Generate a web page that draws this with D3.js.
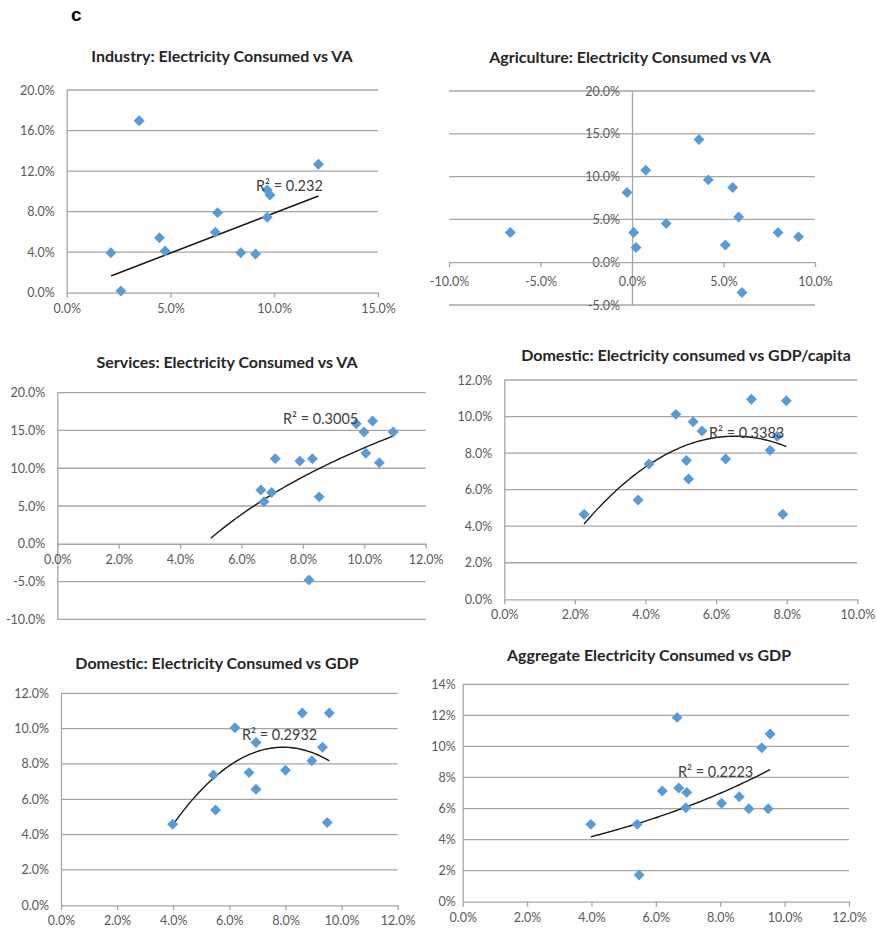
<!DOCTYPE html>
<html>
<head>
<meta charset="utf-8">
<script src="https://cdn.jsdelivr.net/npm/d3@7"></script>
<style>
  body { margin: 0; background: #fff; }
  svg text { font-family: Lato, "Open Sans", "Liberation Sans", sans-serif; }
</style>
</head>
<body>
<svg id="chart" width="877" height="935"></svg>
<script>
// Growth rates in percent: x = value added / GDP growth, y = electricity consumption growth
const industryX = [2.13, 2.61, 3.49, 4.47, 4.74, 7.16, 7.27, 8.39, 9.10, 9.66, 9.66, 9.79, 12.13];
const industryY = [3.95, 0.17, 16.97, 5.43, 4.11, 5.96, 7.90, 3.95, 3.82, 7.44, 10.13, 9.64, 12.67];

const agricultureX = [-6.65, -0.27, 0.09, 0.22, 0.75, 1.87, 3.66, 4.17, 5.10, 5.50, 5.83, 6.01, 7.98, 9.10];
const agricultureY = [3.47, 8.14, 3.47, 1.72, 10.75, 4.52, 14.33, 9.62, 2.02, 8.72, 5.29, -3.54, 3.47, 2.96];

const servicesX = [6.63, 6.73, 6.98, 7.10, 7.90, 8.31, 8.53, 8.20, 9.74, 9.99, 10.05, 10.27, 10.49, 10.94];
const servicesY = [7.13, 5.55, 6.78, 11.27, 10.96, 11.27, 6.21, -4.80, 15.89, 14.80, 11.98, 16.25, 10.74, 14.80];

const domCapitaX = [2.26, 3.79, 4.10, 4.86, 5.16, 5.22, 5.35, 5.60, 6.27, 7.00, 7.53, 7.73, 7.89, 7.99];
const domCapitaY = [4.65, 5.43, 7.40, 10.12, 7.60, 6.58, 9.72, 9.21, 7.68, 10.95, 8.15, 8.92, 4.65, 10.87];

const domGdpX = [3.98, 5.43, 5.51, 6.20, 6.70, 6.95, 6.95, 8.00, 8.60, 8.94, 9.32, 9.49, 9.56];
const domGdpY = [4.59, 7.38, 5.40, 10.05, 7.51, 9.21, 6.57, 7.65, 10.88, 8.18, 8.95, 4.68, 10.88];

const aggregateX = [3.98, 5.42, 5.48, 6.20, 6.66, 6.71, 6.96, 6.93, 8.04, 8.59, 8.89, 9.29, 9.49, 9.55];
const aggregateY = [4.98, 4.98, 1.72, 7.13, 11.87, 7.32, 7.04, 6.05, 6.34, 6.76, 5.99, 9.92, 5.99, 10.80];

// Axis tick values
const industryXTicks = [0, 5, 10, 15];
const industryYTicks = [0, 4, 8, 12, 16, 20];
const agricultureXTicks = [-10, -5, 0, 5, 10];
const agricultureYTicks = [-5, 0, 5, 10, 15, 20];
const servicesXTicks = [0, 2, 4, 6, 8, 10, 12];
const servicesYTicks = [-10, -5, 0, 5, 10, 15, 20];
const domCapitaXTicks = [0, 2, 4, 6, 8, 10];
const domCapitaYTicks = [0, 2, 4, 6, 8, 10, 12];
const domGdpXTicks = [0, 2, 4, 6, 8, 10, 12];
const domGdpYTicks = [0, 2, 4, 6, 8, 10, 12];
const aggregateXTicks = [0, 2, 4, 6, 8, 10, 12];
const aggregateYTicks = [0, 2, 4, 6, 8, 10, 12, 14];

// Trend lines: coefficients and the x span each one covers
const industryTrend = [0.789, -0.03];            // linear: a*x + b
const industrySpan = [2.13, 12.13];
const servicesTrend = [17.28, -27.08];           // logarithmic: a*ln(x) + b
const servicesSpan = [5.0, 10.94];
const domCapitaTrend = [-2.322, 3.4476, -0.2642]; // polynomial: c0 + c1*x + c2*x^2
const domCapitaSpan = [2.26, 7.99];
const domGdpTrend = [-8.852, 4.4966, -0.284];     // polynomial: c0 + c1*x + c2*x^2
const domGdpSpan = [3.98, 9.56];
const aggregateTrend = [2.514, 0.1277];           // exponential: a*e^(k*x)
const aggregateSpan = [3.98, 9.55];

// Trend line labels
const industryR2 = "R² = 0.232";
const servicesR2 = "R² = 0.3005";
const domCapitaR2 = "R² = 0.3383";
const domGdpR2 = "R² = 0.2932";
const aggregateR2 = "R² = 0.2223";

const linear = ([a, b]) => x => a * x + b;
const logarithmic = ([a, b]) => x => a * Math.log(x) + b;
const poly2 = ([c0, c1, c2]) => x => c0 + c1 * x + c2 * x * x;
const exponential = ([a, k]) => x => a * Math.exp(k * x);

const svg = d3.select("#chart");
const gridColor = "#a6a6a6";
const textColor = "#595959";
const pointColor = "#5b9bd5";

svg.append("text").attr("x", 71).attr("y", 21)
  .style("font-family", "'Liberation Sans', Arial, sans-serif")
  .attr("font-size", 19).attr("font-weight", "bold").attr("fill", "#000").text("c");

const fmt1 = d => d.toFixed(1) + "%";
const fmt0 = d => d.toFixed(0) + "%";

function panel(cfg) {
  const x = d3.scaleLinear().domain(cfg.xDomain).range(cfg.xRange);
  const y = d3.scaleLinear().domain(cfg.yDomain).range(cfg.yRange);
  const g = svg.append("g");

  g.append("text")
    .attr("x", cfg.titleX).attr("y", cfg.titleY)
    .attr("text-anchor", "middle").attr("font-size", 16).attr("font-weight", "bold")
    .attr("fill", "#262626").text(cfg.title);

  // horizontal gridlines
  g.append("g").selectAll("line").data(cfg.yTicks.filter(v => v !== cfg.xAxisAt)).join("line")
    .attr("x1", cfg.xRange[0]).attr("x2", cfg.xRange[1])
    .attr("y1", d => y(d)).attr("y2", d => y(d))
    .attr("stroke", gridColor).attr("stroke-width", 1.3);

  // vertical axis
  const yAxis = d3.axisLeft(y).tickValues(cfg.yTicks).tickFormat(cfg.yFmt)
    .tickSize(0).tickPadding(cfg.yPad);
  const ya = g.append("g").attr("transform", `translate(${x(cfg.yAxisAt)},0)`).call(yAxis);
  ya.select(".domain").attr("stroke", gridColor).attr("stroke-width", 1.3);
  ya.selectAll("text").attr("font-size", 12.5).attr("fill", textColor);

  // horizontal axis
  const xAxis = d3.axisBottom(x).tickValues(cfg.xTicks).tickFormat(fmt1)
    .tickSize(5).tickSizeOuter(0).tickPadding(cfg.xPad);
  const xa = g.append("g").attr("transform", `translate(0,${y(cfg.xAxisAt)})`).call(xAxis);
  xa.select(".domain").attr("stroke", gridColor).attr("stroke-width", 1.3);
  xa.selectAll(".tick line").attr("stroke", gridColor).attr("stroke-width", 1.3);
  xa.selectAll("text").attr("font-size", 12.5).attr("fill", textColor);

  // trend line
  if (cfg.trend) {
    const [x0, x1] = cfg.span;
    const pts = d3.range(0, 81).map(i => x0 + (x1 - x0) * i / 80);
    g.append("path")
      .attr("d", d3.line().x(d => x(d)).y(d => y(cfg.trend(d)))(pts))
      .attr("fill", "none").attr("stroke", "#1a1a1a").attr("stroke-width", 1.4);
  }

  // points
  const sym = d3.symbol().type(d3.symbolSquare).size(60)();
  g.append("g").selectAll("path").data(cfg.xs.map((v, i) => [v, cfg.ys[i]])).join("path")
    .attr("d", sym)
    .attr("transform", d => `translate(${x(d[0])},${y(d[1])}) rotate(45)`)
    .attr("fill", pointColor);

  if (cfg.r2) {
    g.append("text").attr("x", cfg.r2X).attr("y", cfg.r2Y)
      .attr("font-size", 14.5).attr("fill", "#404040").text(cfg.r2);
  }
}

panel({
  title: "Industry: Electricity Consumed vs VA", titleX: 222, titleY: 62,
  xs: industryX, ys: industryY, xDomain: [0, 15], xRange: [66.7, 378],
  yDomain: [0, 20], yRange: [292.7, 90], xTicks: industryXTicks, yTicks: industryYTicks,
  yFmt: fmt1, yAxisAt: 0, xAxisAt: 0, yPad: 12, xPad: 6,
  trend: linear(industryTrend), span: industrySpan, r2: industryR2, r2X: 256, r2Y: 191
});

panel({
  title: "Agriculture: Electricity Consumed vs VA", titleX: 630, titleY: 63,
  xs: agricultureX, ys: agricultureY, xDomain: [-10, 10], xRange: [449, 815],
  yDomain: [-5, 20], yRange: [305, 91], xTicks: agricultureXTicks, yTicks: agricultureYTicks,
  yFmt: fmt1, yAxisAt: 0, xAxisAt: 0, yPad: 12, xPad: 10
});

panel({
  title: "Services: Electricity Consumed vs VA", titleX: 227, titleY: 368,
  xs: servicesX, ys: servicesY, xDomain: [0, 12], xRange: [57.3, 425.7],
  yDomain: [-10, 20], yRange: [619.3, 392.7], xTicks: servicesXTicks, yTicks: servicesYTicks,
  yFmt: fmt1, yAxisAt: 0, xAxisAt: 0, yPad: 12, xPad: 6,
  trend: logarithmic(servicesTrend), span: servicesSpan, r2: servicesR2, r2X: 283, r2Y: 424
});

panel({
  title: "Domestic: Electricity consumed vs GDP/capita", titleX: 686, titleY: 361,
  xs: domCapitaX, ys: domCapitaY, xDomain: [0, 10], xRange: [504.3, 857.3],
  yDomain: [0, 12], yRange: [599.3, 380], xTicks: domCapitaXTicks, yTicks: domCapitaYTicks,
  yFmt: fmt1, yAxisAt: 0, xAxisAt: 0, yPad: 12, xPad: 6,
  trend: poly2(domCapitaTrend), span: domCapitaSpan, r2: domCapitaR2, r2X: 709, r2Y: 438
});

panel({
  title: "Domestic: Electricity Consumed vs GDP", titleX: 217, titleY: 669,
  xs: domGdpX, ys: domGdpY, xDomain: [0, 12], xRange: [61, 397.7],
  yDomain: [0, 12], yRange: [905.3, 693.3], xTicks: domGdpXTicks, yTicks: domGdpYTicks,
  yFmt: fmt1, yAxisAt: 0, xAxisAt: 0, yPad: 12, xPad: 6,
  trend: poly2(domGdpTrend), span: domGdpSpan, r2: domGdpR2, r2X: 242, r2Y: 740
});

panel({
  title: "Aggregate Electricity Consumed vs GDP", titleX: 649, titleY: 661,
  xs: aggregateX, ys: aggregateY, xDomain: [0, 12], xRange: [462.7, 849],
  yDomain: [0, 14], yRange: [901.7, 684.3], xTicks: aggregateXTicks, yTicks: aggregateYTicks,
  yFmt: fmt0, yAxisAt: 0, xAxisAt: 0, yPad: 7, xPad: 6,
  trend: exponential(aggregateTrend), span: aggregateSpan, r2: aggregateR2, r2X: 678, r2Y: 777
});
</script>
</body>
</html>
